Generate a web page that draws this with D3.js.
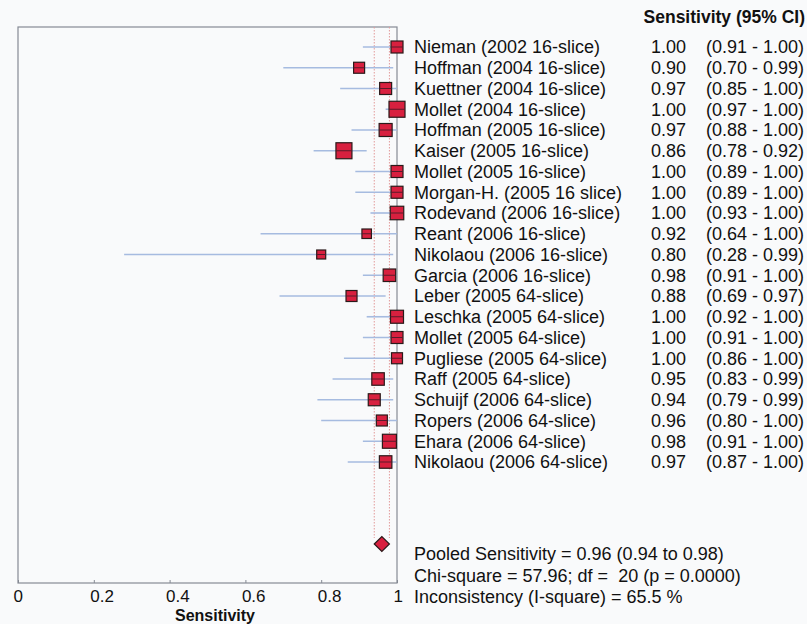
<!DOCTYPE html>
<html>
<head>
<meta charset="utf-8">
<script src="https://cdn.jsdelivr.net/npm/d3@7"></script>
<style>
  html, body { margin: 0; padding: 0; background: #f9fafb; }
  svg { display: block; }
  text { font-family: "Liberation Sans", Arial, sans-serif; fill: #111; }
</style>
</head>
<body>
<svg id="chart" width="807" height="624"></svg>
<script>
// ---- data ----
const studies = [
  "Nieman (2002 16-slice)", "Hoffman (2004 16-slice)", "Kuettner (2004 16-slice)",
  "Mollet (2004 16-slice)", "Hoffman (2005 16-slice)", "Kaiser (2005 16-slice)",
  "Mollet (2005 16-slice)", "Morgan-H. (2005 16 slice)", "Rodevand (2006 16-slice)",
  "Reant (2006 16-slice)", "Nikolaou (2006 16-slice)", "Garcia (2006 16-slice)",
  "Leber (2005 64-slice)", "Leschka (2005 64-slice)", "Mollet (2005 64-slice)",
  "Pugliese (2005 64-slice)", "Raff (2005 64-slice)", "Schuijf (2006 64-slice)",
  "Ropers (2006 64-slice)", "Ehara (2006 64-slice)", "Nikolaou (2006 64-slice)"
];
const sensitivity = [1.00, 0.90, 0.97, 1.00, 0.97, 0.86, 1.00, 1.00, 1.00, 0.92, 0.80,
                     0.98, 0.88, 1.00, 1.00, 1.00, 0.95, 0.94, 0.96, 0.98, 0.97];
const ciLow  = [0.91, 0.70, 0.85, 0.97, 0.88, 0.78, 0.89, 0.89, 0.93, 0.64, 0.28,
                0.91, 0.69, 0.92, 0.91, 0.86, 0.83, 0.79, 0.80, 0.91, 0.87];
const ciHigh = [1.00, 0.99, 1.00, 1.00, 1.00, 0.92, 1.00, 1.00, 1.00, 1.00, 0.99,
                1.00, 0.97, 1.00, 1.00, 1.00, 0.99, 0.99, 1.00, 1.00, 1.00];
// relative study weights (drives marker size)
const weights = [12, 11, 12, 16, 13, 16, 12, 12, 13.5, 9.5, 9,
                 12.5, 11, 13, 12, 11, 12.5, 12, 11, 14, 12.5];
const pooled = { est: 0.96, low: 0.94, high: 0.98 };
const xTicks = [0, 0.2, 0.4, 0.6, 0.8, 1];
const xTickLabels = ["0", "0.2", "0.4", "0.6", "0.8", "1"];
const summaryLines = [
  "Pooled Sensitivity = 0.96 (0.94 to 0.98)",
  "Chi-square = 57.96; df =  20 (p = 0.0000)",
  "Inconsistency (I-square) = 65.5 %"
];
const fmt = d3.format(".2f");

// ---- layout ----
const svg = d3.select("#chart");
const box = { left: 18, right: 397, top: 27, bottom: 583 };
const x = d3.scaleLinear().domain([0, 1]).range([box.left, box.right]);
const y = d3.scalePoint().domain(studies).range([47, 462]);
const size = d3.scaleLinear().domain([0, 16]).range([0, 16]);
const pooledY = 544;

// frame
svg.append("rect")
  .attr("x", box.left).attr("y", box.top)
  .attr("width", box.right - box.left).attr("height", box.bottom - box.top)
  .attr("fill", "none").attr("stroke", "#858a94").attr("stroke-width", 1.2);

// pooled CI dotted lines
svg.selectAll("line.pci").data([pooled.low, pooled.high]).enter().append("line")
  .attr("class", "pci")
  .attr("x1", d => x(d)).attr("x2", d => x(d))
  .attr("y1", box.top).attr("y2", pooledY - 6)
  .attr("stroke", "#e29a9a").attr("stroke-width", 1)
  .attr("stroke-dasharray", "1.5,1.5");

// x axis ticks
const axis = d3.axisBottom(x).tickValues(xTicks).tickSize(-3).tickFormat((d, i) => xTickLabels[i]);
const ax = svg.append("g").attr("transform", `translate(0,${box.bottom})`).call(axis);
ax.select(".domain").remove();
ax.selectAll(".tick line").attr("stroke", "#858a94");
ax.selectAll(".tick text")
  .attr("font-size", 17).attr("fill", "#111")
  .attr("font-family", "Liberation Sans, Arial, sans-serif")
  .attr("text-anchor", "start").attr("dx", -4).attr("y", 7)
  .attr("dy", "0.71em");
ax.selectAll(".tick").filter(d => d === 0).select("text").attr("dx", -5);

svg.append("text").attr("x", 215).attr("y", 620.5)
  .attr("text-anchor", "middle").attr("font-size", 16).attr("font-weight", "bold")
  .text("Sensitivity");

// CI lines
const rows = studies.map((s, i) => ({ s, est: sensitivity[i], lo: ciLow[i], hi: ciHigh[i], w: weights[i] }));
svg.selectAll("line.ci").data(rows).enter().append("line")
  .attr("class", "ci")
  .attr("x1", d => x(d.lo)).attr("x2", d => x(d.hi))
  .attr("y1", d => y(d.s)).attr("y2", d => y(d.s))
  .attr("stroke", "#a6bbe0").attr("stroke-width", 1.6);

// squares
const sq = svg.selectAll("g.sq").data(rows).enter().append("g").attr("class", "sq");
sq.append("rect")
  .attr("x", d => x(d.est) - size(d.w) / 2)
  .attr("y", d => y(d.s) - size(d.w) / 2)
  .attr("width", d => size(d.w)).attr("height", d => size(d.w))
  .attr("fill", "#d8203f").attr("stroke", "#2a1a1a").attr("stroke-width", 1.2);
sq.append("line")
  .attr("x1", d => x(d.est) - size(d.w) / 2).attr("x2", d => x(d.est) + size(d.w) / 2)
  .attr("y1", d => y(d.s)).attr("y2", d => y(d.s))
  .attr("stroke", "#5a1a2a").attr("stroke-width", 1);

// pooled diamond
svg.append("path")
  .attr("d", `M${x(pooled.low)},${pooledY} L${x(pooled.est)},${pooledY - 7.5} L${x(pooled.high)},${pooledY} L${x(pooled.est)},${pooledY + 7.5} Z`)
  .attr("fill", "#d8203f").attr("stroke", "#2a1a1a").attr("stroke-width", 1.2);

// right-hand text columns
svg.append("text").attr("x", 805).attr("y", 23)
  .attr("text-anchor", "end").attr("font-size", 17.5).attr("font-weight", "bold")
  .text("Sensitivity (95% CI)");

const labels = svg.append("g");
labels.selectAll("text.name").data(rows).enter().append("text")
  .attr("class", "name").attr("x", 414).attr("y", d => y(d.s)).attr("dy", "0.36em")
  .attr("font-size", 18).text(d => d.s);
labels.selectAll("text.val").data(rows).enter().append("text")
  .attr("class", "val").attr("x", 686).attr("y", d => y(d.s)).attr("dy", "0.36em")
  .attr("text-anchor", "end").attr("font-size", 18).text(d => fmt(d.est));
labels.selectAll("text.ci").data(rows).enter().append("text")
  .attr("class", "ci").attr("x", 706).attr("y", d => y(d.s)).attr("dy", "0.36em")
  .attr("font-size", 18).text(d => `(${fmt(d.lo)} - ${fmt(d.hi)})`);

svg.selectAll("text.sum").data(summaryLines).enter().append("text")
  .attr("class", "sum").attr("x", 414).attr("y", (d, i) => 560 + i * 21.5)
  .attr("font-size", 18).style("white-space", "pre").attr("xml:space", "preserve")
  .text(d => d);
</script>
</body>
</html>
